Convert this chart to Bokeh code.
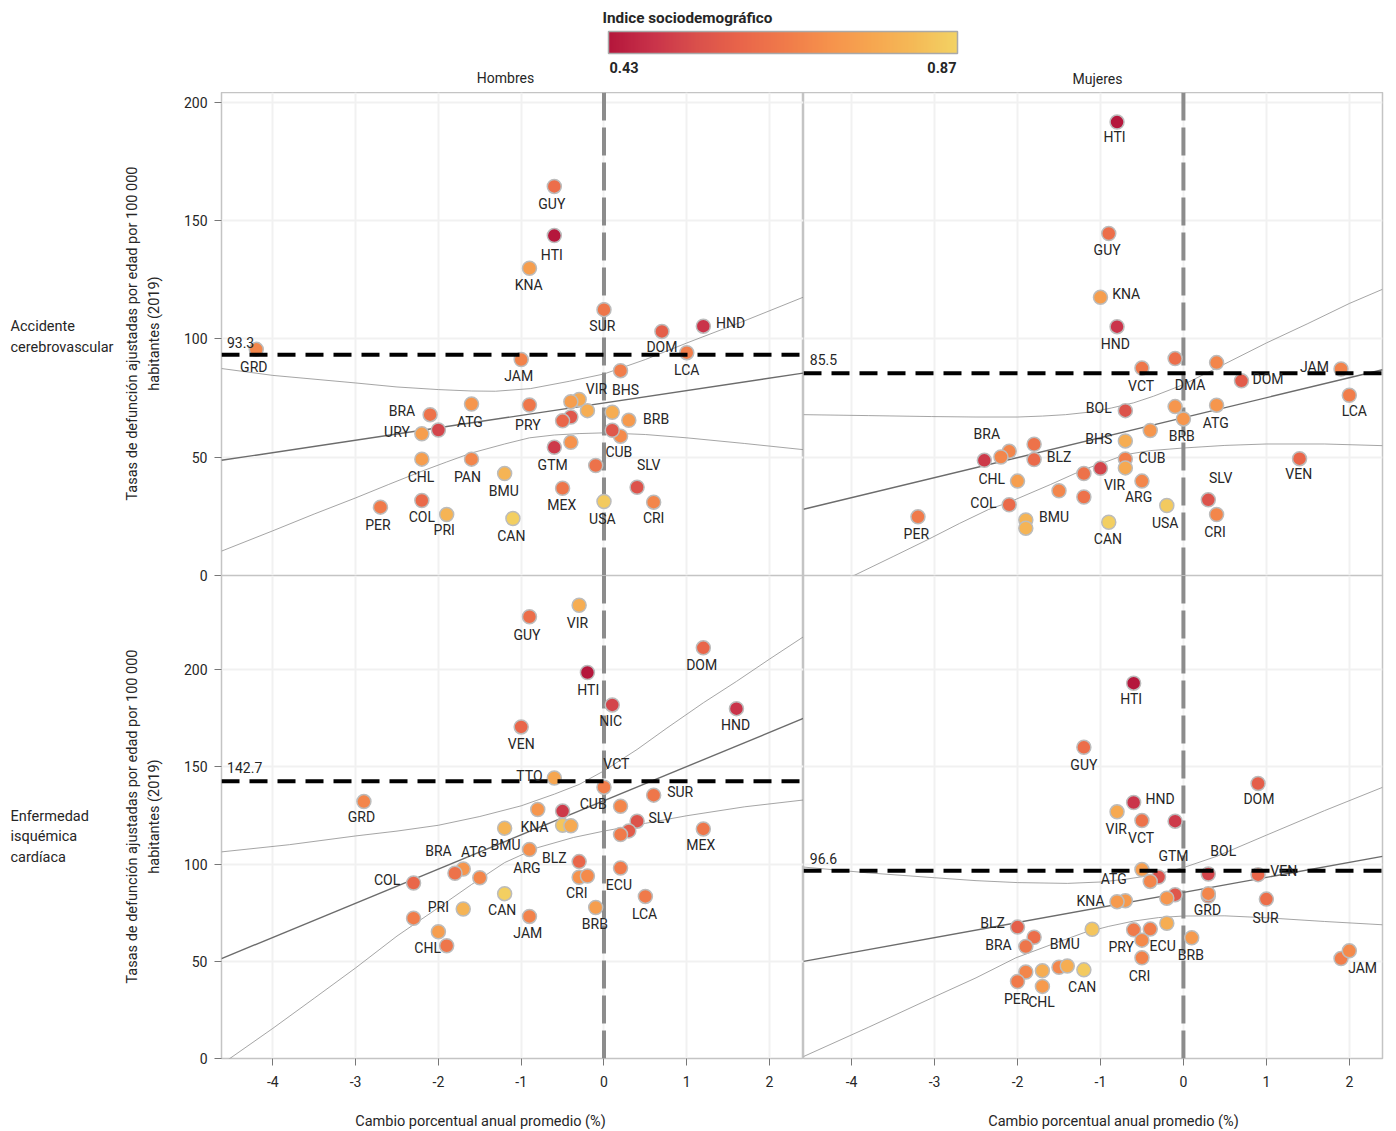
import numpy as np

from bokeh.core.properties import value
from bokeh.embed import file_html
from bokeh.layouts import column, row
from bokeh.models import ColorBar, ColumnDataSource, FixedTicker, Grid, LinearAxis, LinearColorMapper, Range1d
from bokeh.plotting import figure
from bokeh.resources import INLINE

FONT = "Roboto"
FONT_SIZE = "14px"
TITLE_SIZE = "14.5px"
TEXT_COLOR = "#262626"

sdi_low = 0.43
sdi_high = 0.87
color_stops = ["#B5173C", "#C9334A", "#DA504C", "#E9654A", "#F07A4A", "#F6914C", "#F7A650", "#F5BA57", "#F3D364"]

x_ticks = [-4, -3, -2, -1, 0, 1, 2]
y_ticks = [0, 50, 100, 150, 200]

# Hombres, accidente cerebrovascular
m_acv_x = [-4.2, -0.6, -0.6, -0.9, 0, 0.7, 1.2, 1.0, -1.0, 0.2, -1.6, -0.9, -2.1, -2.2, -2.0, -2.2, -1.6, -1.2, -2.7,
           -2.2, -1.9, -1.1, -0.5, 0, 0.6, 0.4, -0.1, -0.6, -0.4, 0.2, 0.1, 0.3, 0.1, -0.2, -0.3, -0.4, -0.4, -0.5]
m_acv_y = [95.6, 164.5, 143.7, 129.9, 112.4, 103.2, 105.4, 94.2, 91.3, 86.6, 72.5, 72.1, 68, 59.9, 61.5, 49.2, 49.2, 43.1,
           28.9, 31.7, 25.8, 24.1, 36.9, 31.3, 31, 37.3, 46.5, 54.2, 56.3, 58.9, 61.4, 65.6, 69, 69.7, 74.4, 73.5, 67, 65.4]
m_acv_sdi = [.68, .62, .43, .74, .64, .58, .49, .66, .67, .66, .72, .64, .63, .74, .52, .74, .68, .80, .65,
             .61, .80, .86, .64, .85, .68, .55, .63, .50, .71, .69, .56, .73, .78, .78, .77, .74, .56, .60]
m_acv_labels = ["GUY", "HTI", "KNA", "SUR", "HND", "DOM", "LCA", "GRD", "JAM", "VIR", "BHS", "BRA", "ATG", "PRY", "BRB",
                "URY", "CUB", "SLV", "GTM", "CHL", "PAN", "BMU", "MEX", "USA", "CRI", "COL", "PER", "PRI", "CAN"]
m_acv_label_x = [-.63, -.63, -.91, -.02, 1.53, .7, 1.0, -4.23, -1.03, -.09, .26, -2.44, -1.62, -.92, .63,
                 -2.5, .18, .54, -.62, -2.21, -1.65, -1.21, -.51, -.02, .6, -2.2, -2.73, -1.93, -1.12]
m_acv_label_y = [157.2, 135.6, 122.8, 105.6, 106.8, 96.6, 87, 88.3, 84.2, 78.9, 78.6, 69.7, 65.1, 63.8, 66.2,
                 60.8, 52.4, 46.8, 46.8, 41.7, 41.8, 35.9, 29.6, 23.7, 24.1, 24.8, 21.5, 19.2, 16.9]
m_acv_fit_x = [-4.62, 2.41]
m_acv_fit_y = [48.7, 85.6]
m_acv_upper_x = [-4.62, -4, -3, -2.5, -2, -1.6, -1.31, -.89, -.42, 0, .5, 1, 1.7, 2.41]
m_acv_upper_y = [87.5, 84.6, 81.4, 79.7, 78.6, 78, 77.9, 79, 82.1, 85.2, 91.3, 98.3, 107.7, 117.7]
m_acv_lower_x = [-4.62, -4, -3.5, -3, -2.6, -2.2, -1.9, -1.6, -1.2, -.9, -.6, -.3, 0, .5, 1, 1.7, 2.41]
m_acv_lower_y = [10.3, 18.9, 26, 32.8, 38.5, 44.1, 48, 51.8, 55.6, 58.2, 59.4, 60, 60.3, 59.6, 58.2, 55.8, 53.2]

# Mujeres, accidente cerebrovascular
f_acv_x = [-.8, -.9, -1.0, -.8, -.5, -.1, .4, .7, 1.9, 2.0, -.7, -.1, 0, .4, -.4, -.7, -2.1, -2.2, -2.4, -1.8, -1.8,
           -.7, -.7, -1.0, -1.2, -.5, -2.0, -1.5, -1.2, -2.1, -.2, -1.9, -1.9, -3.2, -.9, .3, .4, 1.4]
f_acv_y = [191.7, 144.6, 117.6, 105.2, 87.7, 91.7, 90, 82.3, 87.3, 76.2, 69.7, 71.4, 66.2, 72, 61.3, 56.9, 52.5, 50.1,
           48.7, 55.5, 49, 49.3, 45.5, 45.3, 43.1, 39.9, 39.9, 35.8, 33.2, 29.9, 29.6, 23.5, 20, 24.8, 22.5, 32, 25.8, 49.4]
f_acv_sdi = [.43, .62, .74, .49, .64, .62, .68, .57, .67, .66, .55, .72, .72, .72, .72, .78, .68, .68, .50, .63, .61,
             .66, .77, .52, .63, .68, .74, .68, .63, .61, .85, .80, .80, .65, .86, .55, .68, .60]
f_acv_labels = ["HTI", "GUY", "KNA", "HND", "VCT", "DMA", "DOM", "JAM", "LCA", "BOL", "ATG", "BRA", "BRB", "BHS",
                "BLZ", "CUB", "VEN", "CHL", "SLV", "VIR", "ARG", "COL", "BMU", "USA", "CRI", "PER", "CAN"]
f_acv_label_x = [-.83, -.92, -.69, -.82, -.51, .08, 1.02, 1.58, 2.06, -1.02, .39, -2.37, -.02, -1.02,
                 -1.5, -.38, 1.39, -2.31, .45, -.83, -.54, -2.41, -1.56, -.22, .38, -3.22, -.91]
f_acv_label_y = [185.5, 137.7, 119, 97.9, 80.3, 80.6, 83.2, 88.2, 69.7, 70.8, 64.6, 59.9, 59, 57.9,
                 49.9, 49.7, 43.1, 40.8, 41.1, 38.3, 33, 30.7, 24.8, 22.4, 18.6, 17.7, 15.6]
f_acv_fit_x = [-4.58, 2.4]
f_acv_fit_y = [28, 87]
f_acv_upper_x = [-4.58, -3.8, -3.04, -2.5, -2, -1.7, -1.42, -1.1, -.87, -.6, -.36, 0, .4, 1, 1.5, 2, 2.4]
f_acv_upper_y = [68, 67.6, 67.2, 67, 67, 67.4, 68, 69.2, 70.8, 73, 75.8, 80.7, 87.7, 98.3, 106.5, 115, 121]
f_acv_lower_x = [-4.58, -4.03, -3.5, -3.08, -2.7, -2.35, -2.1, -1.6, -1.2, -.9, -.7, -.4, 0, .5, 1, 1.7, 2.4]
f_acv_lower_y = [-12.7, -1, 8, 15.2, 22, 27.9, 31, 38.5, 44.8, 48.5, 51.1, 52.8, 53.9, 55, 55.6, 55.6, 54.9]

# Hombres, enfermedad isquemica cardiaca
m_ihd_x = [-.9, -.3, 1.2, -.2, .1, 1.6, -1, -.6, 0, .6, -2.9, .2, -.8, -.5, -1.2, -.5, -.4, .4, .3, .2, 1.2, -.9, -.3,
           .2, -.3, -.2, -1.7, -1.8, -1.5, -2.3, -1.2, .5, -1.7, -.1, -.9, -2.3, -2, -1.9]
m_ihd_y = [227.3, 233.2, 211.3, 198.6, 181.9, 180, 170.6, 144.3, 139.6, 135.5, 132.2, 129.8, 128.1, 127.3, 118.5, 120,
           119.7, 122.1, 117.1, 115.2, 118.1, 107.5, 101.3, 98, 93.2, 93.9, 97.5, 95.3, 93, 90.3, 84.8, 83.4, 76.9, 77.7,
           73.1, 72.2, 65.2, 58]
m_ihd_sdi = [.62, .78, .60, .43, .52, .49, .60, .76, .66, .64, .68, .68, .72, .50, .80, .84, .77, .55, .57, .65, .64, .70,
             .60, .65, .71, .69, .72, .63, .68, .60, .86, .65, .80, .74, .67, .66, .74, .64]
m_ihd_labels = ["VIR", "GUY", "DOM", "HTI", "NIC", "HND", "VEN", "VCT", "TTO", "SUR", "CUB", "GRD", "SLV", "KNA", "BMU",
                "MEX", "BRA", "ATG", "BLZ", "ARG", "COL", "ECU", "CRI", "CAN", "PRI", "LCA", "BRB", "JAM", "CHL"]
m_ihd_label_x = [-.32, -.93, 1.18, -.19, .08, 1.59, -1, .15, -.9, .92, -.13, -2.93, .68, -.84, -1.19,
                 1.17, -2, -1.57, -.6, -.93, -2.62, .18, -.33, -1.23, -2, .49, -.11, -.92, -2.13]
m_ihd_label_y = [224.1, 217.9, 202.2, 189.5, 173.7, 171.5, 161.8, 151.5, 145.5, 136.9, 130.7, 124.2, 123.5, 119.3, 109.7,
                 109.7, 107, 106.1, 103, 98.2, 91.7, 89.4, 85, 76.4, 78.2, 74.6, 69.3, 64.8, 56.6]
m_ihd_fit_x = [-4.62, 2.41]
m_ihd_fit_y = [51.4, 175]
m_ihd_upper_x = [-4.62, -3.8, -3, -2.5, -2, -1.5, -1, -.6, -.3, 0, .4, .76, 1.2, 1.6, 2, 2.41]
m_ihd_upper_y = [106.3, 110, 114.5, 117, 120, 124.5, 130, 136, 141, 148, 159, 170, 183, 194, 205.5, 217]
m_ihd_lower_x = [-4.62, -4, -3.5, -3, -2.5, -2, -1.6, -1.2, -.8, -.37, 0, .5, 1, 1.7, 2.41]
m_ihd_lower_y = [-3, 15.5, 31, 46.6, 63, 77.6, 89.5, 100.8, 108.5, 113.7, 117, 121, 124.9, 129.5, 133]

# Mujeres, enfermedad isquemica cardiaca
f_ihd_x = [-.6, -1.2, .9, -.6, -.8, -.5, -.1, -.5, -.3, -.4, .3, .9, -.1, -.2, .3, .3, 1, -.7, -.8, -2, -1.1, -.6, -.4,
           -.2, -1.8, -1.9, -.5, .1, -.5, 1.9, 2, -1.9, -1.7, -1.5, -1.4, -1.2, -2, -1.7]
f_ihd_y = [193.1, 160.1, 141.5, 131.7, 126.9, 122.4, 122.1, 97.2, 93.4, 91.1, 94.9, 94.6, 84.3, 82.5, 83.6, 84.8, 82,
           81.2, 80.7, 67.6, 66.5, 66.2, 66.6, 69.6, 62.4, 57.6, 60.9, 62.1, 51.8, 51.4, 55.4, 44.5, 45.2, 46.9, 47.6,
           45.6, 39.6, 37.1]
f_ihd_sdi = [.43, .62, .58, .49, .77, .63, .50, .74, .54, .68, .52, .60, .56, .72, .62, .68, .62, .73, .73, .58, .84, .65,
             .66, .78, .62, .64, .69, .73, .67, .66, .69, .68, .78, .68, .78, .85, .65, .73]
f_ihd_labels = ["HTI", "GUY", "DOM", "HND", "VIR", "VCT", "GTM", "BOL", "VEN", "ATG", "KNA", "GRD", "SUR", "BLZ", "BRA",
                "BMU", "ECU", "PRY", "BRB", "JAM", "CRI", "CAN", "PER", "CHL"]
f_ihd_label_x = [-.63, -1.2, .91, -.28, -.81, -.51, -.12, .48, 1.21, -.84, -1.12, .29, .99, -2.3, -2.23,
                 -1.43, -.25, -.75, .09, 2.16, -.53, -1.22, -2.01, -1.71]
f_ihd_label_y = [184.9, 151, 133.3, 133.3, 118, 113.3, 104.4, 106.6, 96.3, 92.5, 81.2, 76.2, 72.4, 69.5, 58.5,
                 59, 58, 57.3, 53.5, 46.6, 42.6, 37, 30.8, 28.9]
f_ihd_fit_x = [-4.58, 2.4]
f_ihd_fit_y = [50, 104]
f_ihd_upper_x = [-4.58, -3.8, -3, -2.5, -2, -1.4, -1, -.7, -.35, 0, .4, 1, 1.7, 2.4]
f_ihd_upper_y = [98.5, 95.5, 93, 91.5, 90.5, 90.1, 90.8, 92.2, 94.5, 98.2, 104, 114.9, 127.5, 139.5]
f_ihd_lower_x = [-4.58, -3.8, -3.04, -2.5, -2.02, -1.6, -1.2, -.9, -.6, -.3, 0, .5, 1, 1.7, 2.4]
f_ihd_lower_y = [1, 16, 31, 41.5, 51.8, 58.5, 64.7, 68, 70.7, 72.5, 73.3, 73.4, 72.4, 70.5, 68.8]

# ramp for the colour scale, stops picked off the legend bar
stop_pos = np.linspace(0, 255, len(color_stops))
stop_rgb = np.array([[int(c[i:i+2], 16) for i in (1, 3, 5)] for c in color_stops])
ramp = ["#%02x%02x%02x" % tuple(int(np.interp(i, stop_pos, stop_rgb[:, k])) for k in range(3)) for i in range(256)]
mapper = LinearColorMapper(palette=ramp, low=sdi_low, high=sdi_high)


def panel(x_lo, x_hi, y_hi, w, border_left, border_bottom, mean, mean_label, mean_label_xy,
          xs, ys, sdi, labels, label_x, label_y, fit_x, fit_y, up_x, up_y, lo_x, lo_y, show_y, show_x):
    p = figure(frame_width=w, frame_height=483, x_range=Range1d(x_lo, x_hi), y_range=Range1d(0, y_hi),
               x_axis_location=None, y_axis_location=None, output_backend="svg", toolbar_location=None, tools="",
               min_border_left=border_left, min_border_right=6 if border_left == 0 else 0,
               min_border_top=0, min_border_bottom=border_bottom, outline_line_color="#c4c4c4", outline_line_width=1.5,
               border_fill_color=None, align="start")
    p.grid.visible = False
    p.add_layout(Grid(dimension=0, ticker=FixedTicker(ticks=x_ticks), grid_line_color="#f1f1f1", grid_line_width=2))
    p.add_layout(Grid(dimension=1, ticker=FixedTicker(ticks=y_ticks), grid_line_color="#f1f1f1", grid_line_width=2))

    for loc, show, ticks in (("left", show_y, y_ticks), ("below", show_x, x_ticks)):
        if not show:
            continue
        ax = LinearAxis(ticker=FixedTicker(ticks=ticks), axis_line_color=None, major_tick_line_color="#777777",
                        major_tick_in=0, major_tick_out=7, minor_tick_line_color=None,
                        major_label_text_font=FONT, major_label_text_font_size=FONT_SIZE,
                        major_label_text_color=TEXT_COLOR, major_label_standoff=7 if loc == "left" else 10,
                        major_label_overrides={t: str(t) for t in ticks})
        p.add_layout(ax, loc)

    p.line([0, 0], [y_hi, 0], line_color="#8c8c8c", line_width=4, line_dash="28 7")
    p.line(up_x, up_y, line_color="#8e8e8e", line_width=0.8)
    p.line(lo_x, lo_y, line_color="#8e8e8e", line_width=0.8)
    p.line(fit_x, fit_y, line_color="#6c6c6c", line_width=1.4)

    src = ColumnDataSource(dict(x=xs, y=ys, sdi=sdi))
    p.scatter("x", "y", source=src, size=14, fill_color={"field": "sdi", "transform": mapper},
              line_color="#bcbcbc", line_width=1.5)

    p.line([x_lo, x_hi], [mean, mean], line_color="black", line_width=4, line_dash="18 10")

    txt = ColumnDataSource(dict(x=label_x, y=label_y, t=labels))
    p.text("x", "y", text="t", source=txt, text_font=value(FONT), text_font_size=FONT_SIZE, text_color=TEXT_COLOR,
           text_align="center", text_baseline="middle")
    p.text([mean_label_xy[0]], [mean_label_xy[1]], text=[mean_label], text_font=value(FONT), text_font_size=FONT_SIZE,
           text_color=TEXT_COLOR, text_align="center", text_baseline="middle")
    return p


def strip(width, height, x0, x1, y_top, y_bottom):
    # plain figure without axes whose data units are the page's pixels, for captions outside the frames
    s = figure(frame_width=width, frame_height=height, x_range=Range1d(x0, x1), y_range=Range1d(y_bottom, y_top),
               x_axis_location=None, y_axis_location=None, output_backend="svg", toolbar_location=None, tools="",
               min_border=0, min_border_left=0, min_border_right=0, min_border_top=0, min_border_bottom=0,
               outline_line_color=None, border_fill_color=None, background_fill_color=None, align="start")
    s.grid.visible = False
    return s


def caption(s, x, y, text, size=TITLE_SIZE, **kw):
    s.text([x], [y], text=[text], text_font=value(FONT), text_font_size=size, text_color=TEXT_COLOR,
           text_baseline="middle", **kw)


# the upper row keeps 10px under its frame for the "0" label and overlaps the lower row by that much
p_m_acv = panel(-4.62, 2.41, 204.2, 582, 45, 10, 93.3, "93.3", (-4.39, 98.7),
                m_acv_x, m_acv_y, m_acv_sdi, m_acv_labels, m_acv_label_x, m_acv_label_y,
                m_acv_fit_x, m_acv_fit_y, m_acv_upper_x, m_acv_upper_y, m_acv_lower_x, m_acv_lower_y, True, False)
p_f_acv = panel(-4.58, 2.40, 204.2, 579, 0, 10, 85.5, "85.5", (-4.34, 91.5),
                f_acv_x, f_acv_y, f_acv_sdi, f_acv_labels, f_acv_label_x, f_acv_label_y,
                f_acv_fit_x, f_acv_fit_y, f_acv_upper_x, f_acv_upper_y, f_acv_lower_x, f_acv_lower_y, False, False)
p_m_ihd = panel(-4.62, 2.41, 248.5, 582, 45, 40, 142.7, "142.7", (-4.34, 149.8),
                m_ihd_x, m_ihd_y, m_ihd_sdi, m_ihd_labels, m_ihd_label_x, m_ihd_label_y,
                m_ihd_fit_x, m_ihd_fit_y, m_ihd_upper_x, m_ihd_upper_y, m_ihd_lower_x, m_ihd_lower_y, True, True)
p_f_ihd = panel(-4.58, 2.40, 248.5, 579, 0, 40, 96.6, "96.6", (-4.34, 102.8),
                f_ihd_x, f_ihd_y, f_ihd_sdi, f_ihd_labels, f_ihd_label_x, f_ihd_label_y,
                f_ihd_fit_x, f_ihd_fit_y, f_ihd_upper_x, f_ihd_upper_y, f_ihd_lower_x, f_ihd_lower_y, False, True)

for upper in (p_m_acv, p_f_acv):
    upper.margin = (0, 0, -10, 0)

Y_TITLE = "Tasas de defunción ajustadas por edad por 100 000"
Y_TITLE_2 = "habitantes (2019)"
X_TITLE = "Cambio porcentual anual promedio (%)"

side_top = strip(176, 483, 0, 176, 92, 575)
caption(side_top, 10, 326, "Accidente")
caption(side_top, 10, 347, "cerebrovascular")
caption(side_top, 132, 333, Y_TITLE, angle=90, angle_units="deg", text_align="center")
caption(side_top, 154, 333, Y_TITLE_2, angle=90, angle_units="deg", text_align="center")

side_low = strip(176, 523, 0, 176, 575, 1098)
caption(side_low, 10, 816, "Enfermedad")
caption(side_low, 10, 836, "isquémica")
caption(side_low, 10, 857, "cardíaca")
caption(side_low, 132, 816, Y_TITLE, angle=90, angle_units="deg", text_align="center")
caption(side_low, 154, 816, Y_TITLE_2, angle=90, angle_units="deg", text_align="center")

foot = strip(1388, 31, 0, 1388, 1098, 1129)
caption(foot, 480, 1121, X_TITLE, text_align="center")
caption(foot, 1113, 1121, X_TITLE, text_align="center")

# header strip: legend bar and the two column titles
head = strip(1388, 92, 0, 1388, 0, 92)
bar = ColorBar(color_mapper=mapper, ticker=FixedTicker(ticks=[]), width=349, height=22, location=(608, 39), padding=0,
               margin=0, bar_line_color="#a9a9a9", bar_line_width=1.5, major_tick_line_color=None,
               border_line_color=None, background_fill_color=None, orientation="horizontal")
head.add_layout(bar, "center")
caption(head, 602, 17, "Indice sociodemográfico", size="15.3px", text_font_style="bold")
caption(head, 609, 67, f"{sdi_low:.2f}", text_font_style="bold")
caption(head, 956, 67, f"{sdi_high:.2f}", text_font_style="bold", text_align="right")
caption(head, 505, 77, "Hombres", size=FONT_SIZE, text_align="center")
caption(head, 1097, 78, "Mujeres", size=FONT_SIZE, text_align="center")

page = column(head, row(side_top, p_m_acv, p_f_acv), row(side_low, p_m_ihd, p_f_ihd), foot, spacing=0)
open("out.html", "w").write(file_html(page, INLINE))
